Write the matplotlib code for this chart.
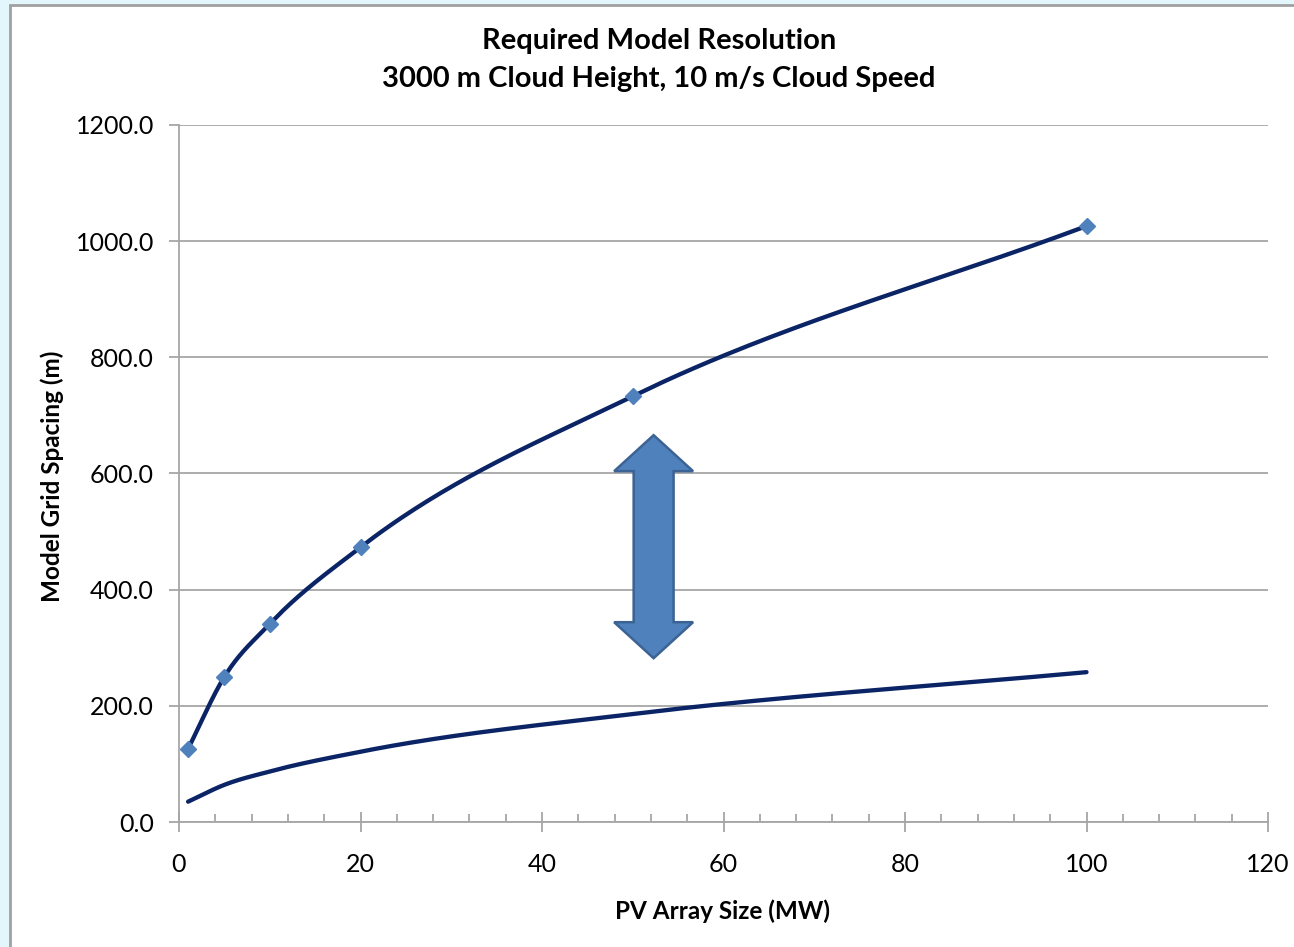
import numpy as np
import matplotlib
matplotlib.use("Agg")
import matplotlib.pyplot as plt
from matplotlib.patches import Polygon, Rectangle

# data
array_size_mw = [1, 5, 10, 20, 50, 100]
upper_spacing = [126, 250, 341, 473, 733, 1026]
lower_spacing = [35, 64, 87, 121, 186, 258]

x_ticks = [0, 20, 40, 60, 80, 100, 120]
y_ticks = [0, 200, 400, 600, 800, 1000, 1200]

TITLE = "Required Model Resolution\n3000 m Cloud Height, 10 m/s Cloud Speed"
X_LABEL = "PV Array Size (MW)"
Y_LABEL = "Model Grid Spacing (m)"

LINE_COLOR = "#0B2466"
MARKER_COLOR = "#4F81BD"
GRID_COLOR = "#A6A6A6"

# double arrow annotation (data units)
ARROW_X = 52.3
ARROW_TOP, ARROW_BOTTOM = 666, 282
ARROW_HEAD_HALF, ARROW_SHAFT_HALF = 4.35, 2.2
ARROW_HEAD_LEN = 62

plt.rcParams["font.family"] = ["Lato", "DejaVu Sans"]


def smooth(xs, ys, n=60):
    """Cubic Hermite smoothing through the points (Excel-style smoothed line)."""
    x = np.asarray(xs, float)
    y = np.asarray(ys, float)
    h = np.diff(x)
    d = np.diff(y) / h
    m = np.empty_like(y)
    m[0], m[-1] = d[0], d[-1]
    m[1:-1] = (d[1:] * h[:-1] + d[:-1] * h[1:]) / (h[:-1] + h[1:])
    ox, oy = [], []
    for i in range(len(x) - 1):
        t = np.linspace(0, 1, n, endpoint=(i == len(x) - 2))
        h00 = 2 * t**3 - 3 * t**2 + 1
        h10 = t**3 - 2 * t**2 + t
        h01 = -2 * t**3 + 3 * t**2
        h11 = t**3 - t**2
        ox.extend(x[i] + t * h[i])
        oy.extend(h00 * y[i] + h10 * h[i] * m[i] + h01 * y[i + 1] + h11 * h[i] * m[i + 1])
    return np.array(ox), np.array(oy)


fig = plt.figure(figsize=(12.94, 9.47), dpi=100)
fig.patch.set_facecolor("#E2F6FC")
fig.patches.append(Rectangle((10 / 1294, -0.1), 1.2, 1 - 5 / 947 + 0.1,
                             transform=fig.transFigure, facecolor="white",
                             edgecolor="#A0A0A0", linewidth=2, zorder=-5))

ax = fig.add_axes([179 / 1294, 1 - 822 / 947, 1089 / 1294, 697 / 947])
ax.set_facecolor("none")

sx, sy = smooth(array_size_mw, upper_spacing)
ax.plot(sx, sy, color=LINE_COLOR, lw=3.1, solid_capstyle="round", zorder=3)
ax.plot(array_size_mw, upper_spacing, ls="none", marker="D", ms=8,
        color=MARKER_COLOR, zorder=4)
lx, ly = smooth(array_size_mw, lower_spacing)
ax.plot(lx, ly, color=LINE_COLOR, lw=3.1, solid_capstyle="round", zorder=3)

arrow = [
    (ARROW_X, ARROW_TOP),
    (ARROW_X + ARROW_HEAD_HALF, ARROW_TOP - ARROW_HEAD_LEN),
    (ARROW_X + ARROW_SHAFT_HALF, ARROW_TOP - ARROW_HEAD_LEN),
    (ARROW_X + ARROW_SHAFT_HALF, ARROW_BOTTOM + ARROW_HEAD_LEN),
    (ARROW_X + ARROW_HEAD_HALF, ARROW_BOTTOM + ARROW_HEAD_LEN),
    (ARROW_X, ARROW_BOTTOM),
    (ARROW_X - ARROW_HEAD_HALF, ARROW_BOTTOM + ARROW_HEAD_LEN),
    (ARROW_X - ARROW_SHAFT_HALF, ARROW_BOTTOM + ARROW_HEAD_LEN),
    (ARROW_X - ARROW_SHAFT_HALF, ARROW_TOP - ARROW_HEAD_LEN),
    (ARROW_X - ARROW_HEAD_HALF, ARROW_TOP - ARROW_HEAD_LEN),
]
ax.add_patch(Polygon(arrow, closed=True, facecolor=MARKER_COLOR,
                     edgecolor="#3B6394", linewidth=1.8, zorder=5))

ax.set_xlim(0, 120)
ax.set_ylim(0, 1200)
ax.set_xticks(x_ticks)
ax.set_xticks(np.arange(0, 121, 4), minor=True)
ax.set_yticks(y_ticks)
ax.set_yticklabels([f"{v:.1f}" for v in y_ticks])
ax.set_xticklabels([str(v) for v in x_ticks])

ax.grid(axis="y", color=GRID_COLOR, lw=1.3, zorder=1)
ax.set_axisbelow(True)
for s in ("top", "right"):
    ax.spines[s].set_visible(False)
for s in ("left", "bottom"):
    ax.spines[s].set_color(GRID_COLOR)
    ax.spines[s].set_linewidth(1.3)

ax.tick_params(axis="y", which="major", direction="out", length=7,
               width=1.3, color=GRID_COLOR, pad=11, labelsize=18)
ax.tick_params(axis="x", which="major", direction="inout", length=14,
               width=1.3, color=GRID_COLOR, pad=15, labelsize=18)
ax.tick_params(axis="x", which="minor", direction="in", length=6,
               width=1.3, color=GRID_COLOR)

fig.text(659 / 1294, 1 - 60 / 947, TITLE, ha="center", va="center",
         fontsize=21, fontweight="bold", linespacing=1.55)
fig.text(722 / 1294, 1 - 911 / 947, X_LABEL, ha="center", va="center",
         fontsize=17.5, fontweight="bold")
fig.text(52 / 1294, 1 - 476 / 947, Y_LABEL, ha="center", va="center",
         fontsize=17.5, fontweight="bold", rotation=90)

fig.savefig("out.png", dpi=100, facecolor=fig.get_facecolor())
